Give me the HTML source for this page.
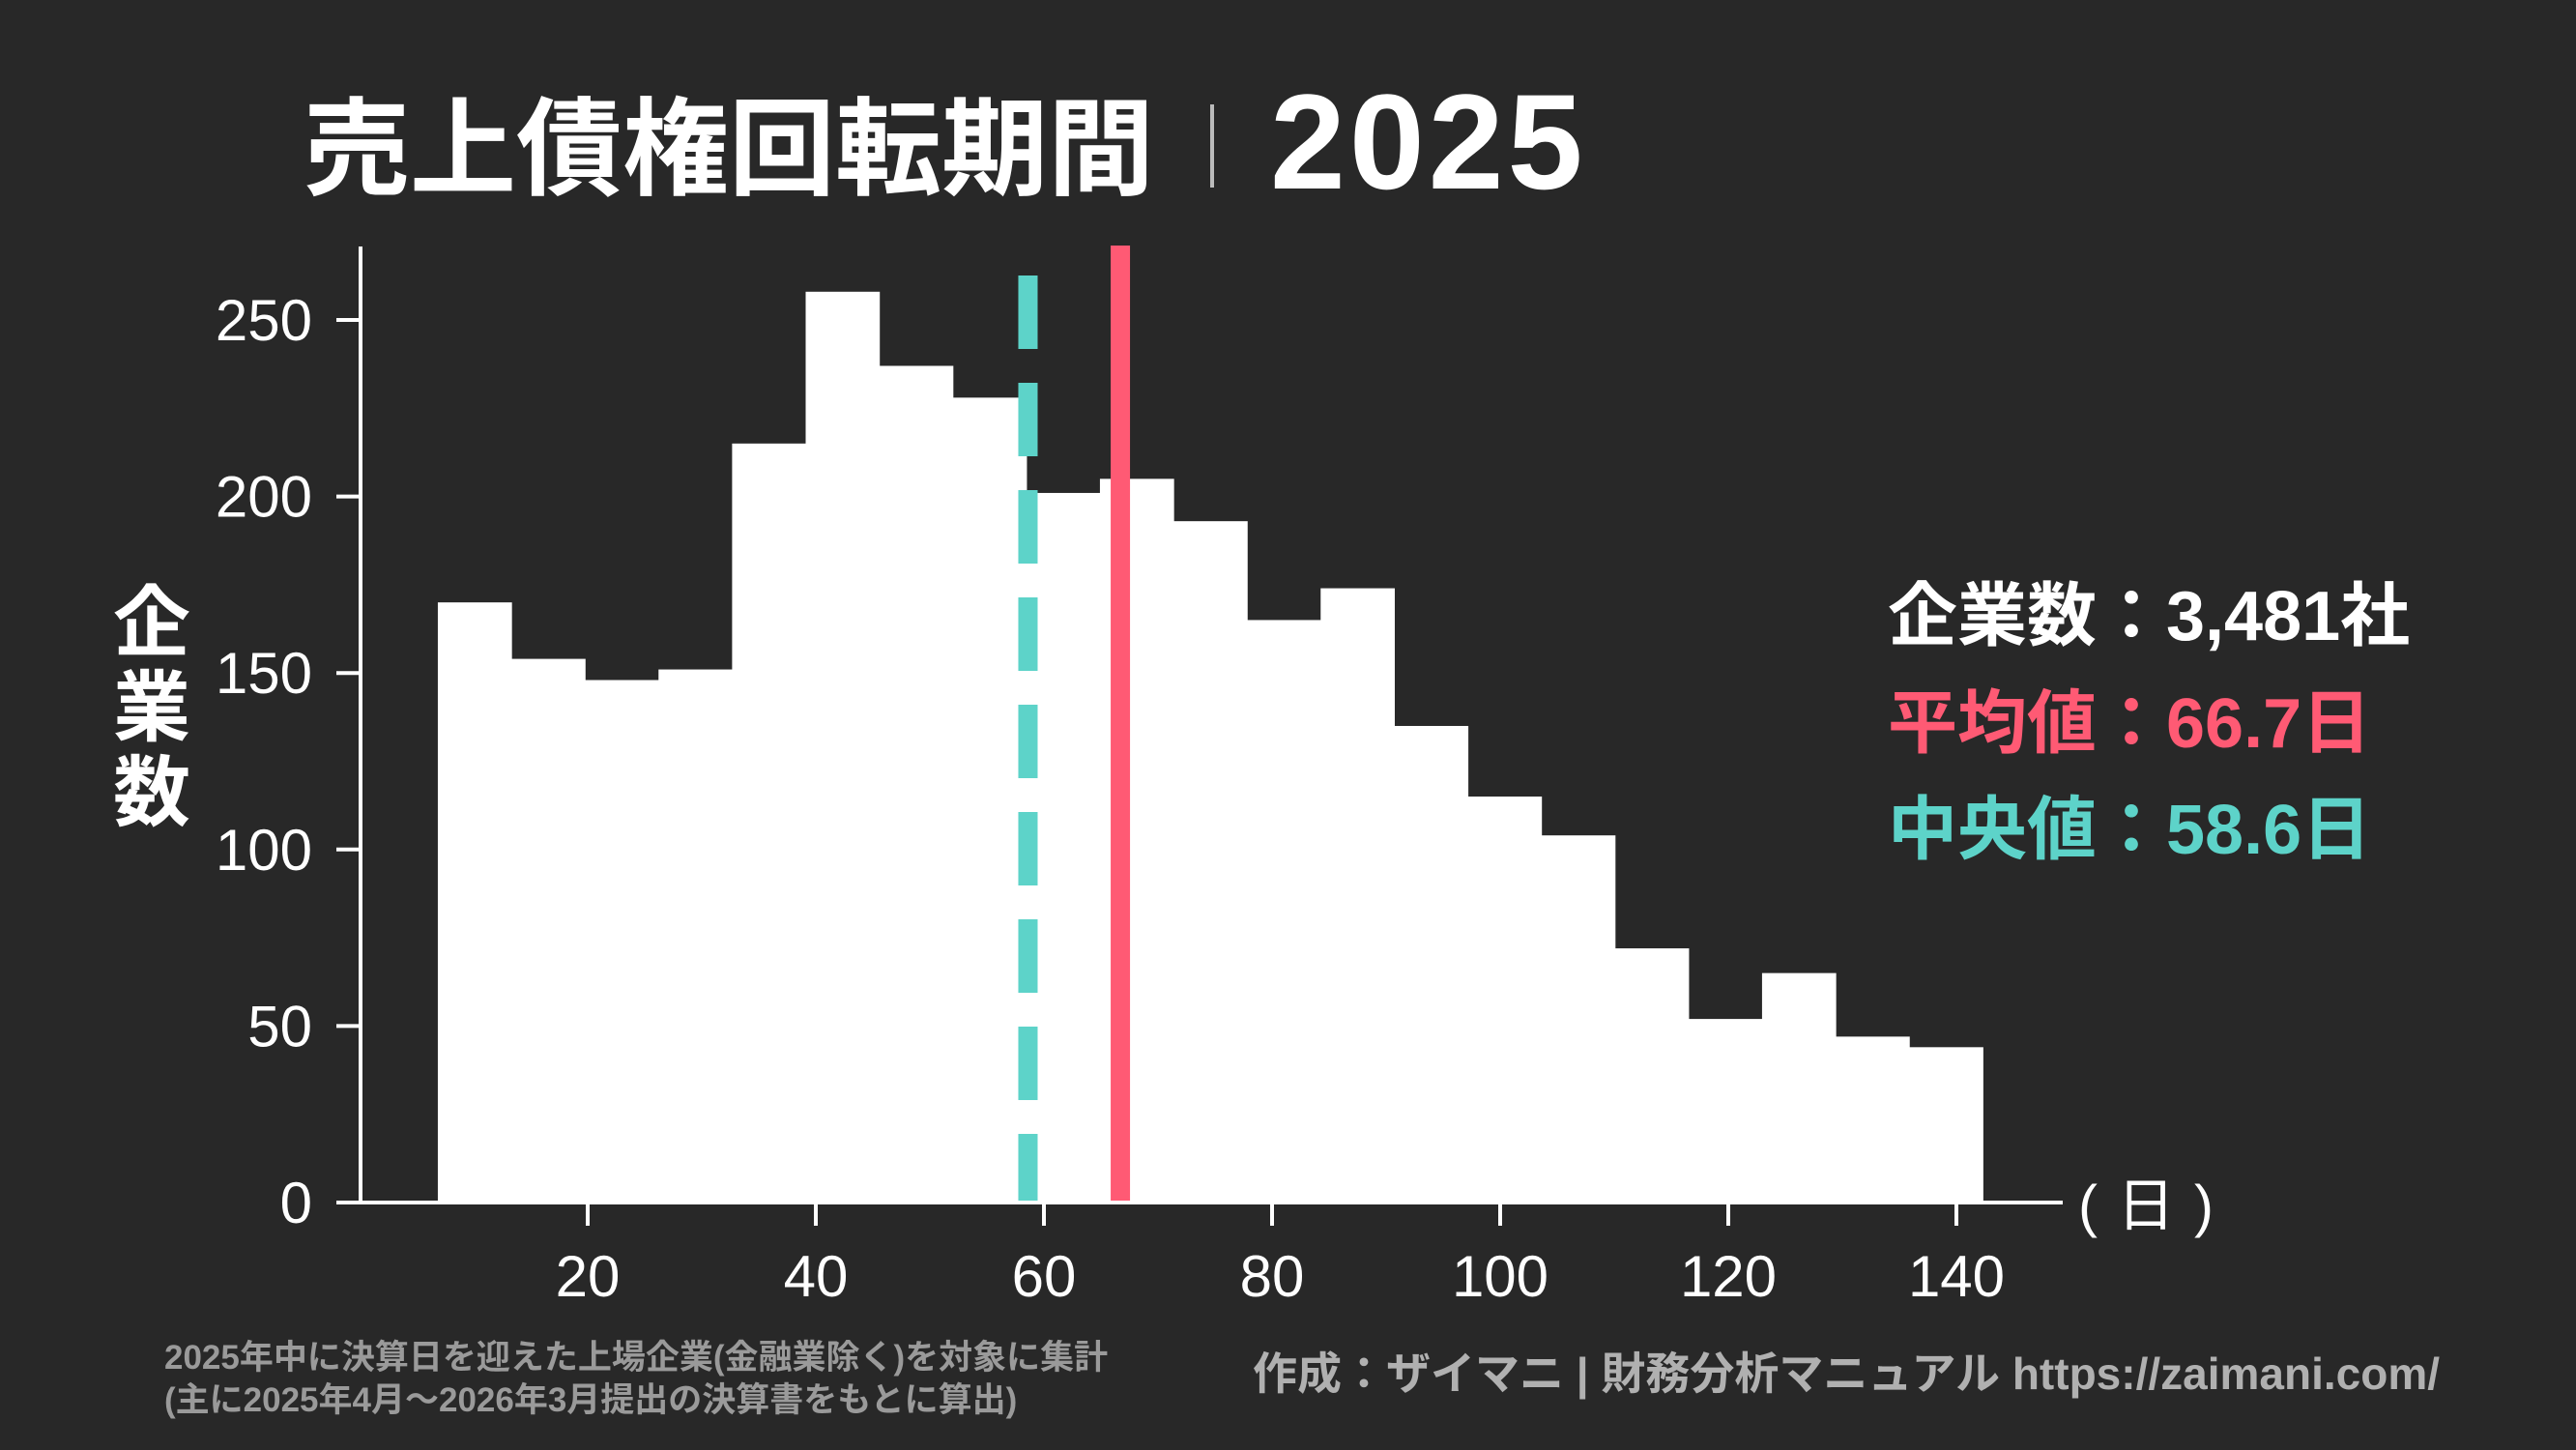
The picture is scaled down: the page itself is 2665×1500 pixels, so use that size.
<!DOCTYPE html>
<html><head><meta charset="utf-8">
<style>
html,body{margin:0;padding:0;background:#282828;}
svg{display:block;font-family:"Liberation Sans","Noto Sans CJK JP",sans-serif;}
</style></head>
<body>
<svg id="chart" width="2665" height="1500" viewBox="0 0 2665 1500" xmlns="http://www.w3.org/2000/svg">
<rect x="0" y="0" width="2665" height="1500" fill="#282828"/>
<text x="314" y="193" font-size="110" font-weight="bold" fill="#fff">売上債権回転期間</text>
<rect x="1252" y="108" width="4" height="86" fill="#bbb"/>
<text x="1314" y="195" font-size="140" font-weight="bold" fill="#fff" letter-spacing="4">2025</text>
<g id="plot"></g>
<text font-size="80" font-weight="bold" fill="#fff" text-anchor="middle">
<tspan x="157" y="672">企</tspan><tspan x="157" y="760">業</tspan><tspan x="157" y="848">数</tspan></text>
<text x="2150" y="1268" font-size="60" fill="#fff">(<tspan dx="20">日</tspan><tspan dx="20">)</tspan></text>
<text x="1953" y="662" font-size="72" font-weight="bold" fill="#fff">企業数：3,481社</text>
<text x="1953" y="773" font-size="72" font-weight="bold" fill="#ff5a74">平均値：66.7日</text>
<text x="1953" y="883" font-size="72" font-weight="bold" fill="#5dd3c9">中央値：58.6日</text>
<text x="170" y="1416" font-size="35" font-weight="bold" fill="#9a9a9a">2025年中に決算日を迎えた上場企業(金融業除く)を対象に集計</text>
<text x="170" y="1460" font-size="35" font-weight="bold" fill="#9a9a9a">(主に2025年4月～2026年3月提出の決算書をもとに算出)</text>
<text x="2524" y="1437" font-size="46" font-weight="bold" fill="#b0b0b0" text-anchor="end">作成：ザイマニ | 財務分析マニュアル https://zaimani.com/</text>
</svg>
<script>
const binStart = 6.86;
const binWidth = 6.45;
const counts = [170,154,148,151,215,258,237,228,201,205,193,165,174,135,115,104,72,52,65,47,44];
const xTicks = [20,40,60,80,100,120,140];
const yTicks = [0,50,100,150,200,250];
const meanValue = 66.7;
const medianValue = 58.6;

const NS = "http://www.w3.org/2000/svg";
const g = document.getElementById('plot');
const X = d => 608 + (d - 20) * (1416 / 120);
const Y = v => 1244 - v * (913 / 250);
function mk(tag, attrs){const e=document.createElementNS(NS,tag);for(const k in attrs)e.setAttribute(k,attrs[k]);g.appendChild(e);return e;}

counts.forEach((c,i)=>{
  const x0 = X(binStart + i*binWidth), x1 = X(binStart + (i+1)*binWidth);
  const r = mk('rect',{x:x0,y:Y(c),width:x1-x0+0.6,height:Y(0)-Y(c),fill:'#ffffff'});
  
  
});

const med = mk('line',{x1:X(medianValue),x2:X(medianValue),y1:285,y2:Y(0),stroke:'#5dd3c9','stroke-width':20,'stroke-dasharray':'76 35'});


const mean = mk('line',{x1:X(meanValue),x2:X(meanValue),y1:254,y2:Y(0),stroke:'#ff5a74','stroke-width':20});



const ya = mk('line',{x1:373,x2:373,y1:255,y2:1246,stroke:'#fff','stroke-width':4});


const xa = mk('line',{x1:371,x2:2134,y1:1244,y2:1244,stroke:'#fff','stroke-width':4});



yTicks.forEach(v=>{
  const t = mk('line',{x1:348,x2:373,y1:Y(v),y2:Y(v),stroke:'#fff','stroke-width':4});
  
  
  const l = mk('text',{x:323,y:Y(v)+21,'font-size':60,fill:'#fff','text-anchor':'end'});
  l.textContent = v;
  
  
});
xTicks.forEach(v=>{
  const t = mk('line',{x1:X(v),x2:X(v),y1:1244,y2:1268,stroke:'#fff','stroke-width':4});
  
  
  const l = mk('text',{x:X(v),y:1341,'font-size':60,fill:'#fff','text-anchor':'middle'});
  l.textContent = v;
  
  
});
</script>
</body></html>
